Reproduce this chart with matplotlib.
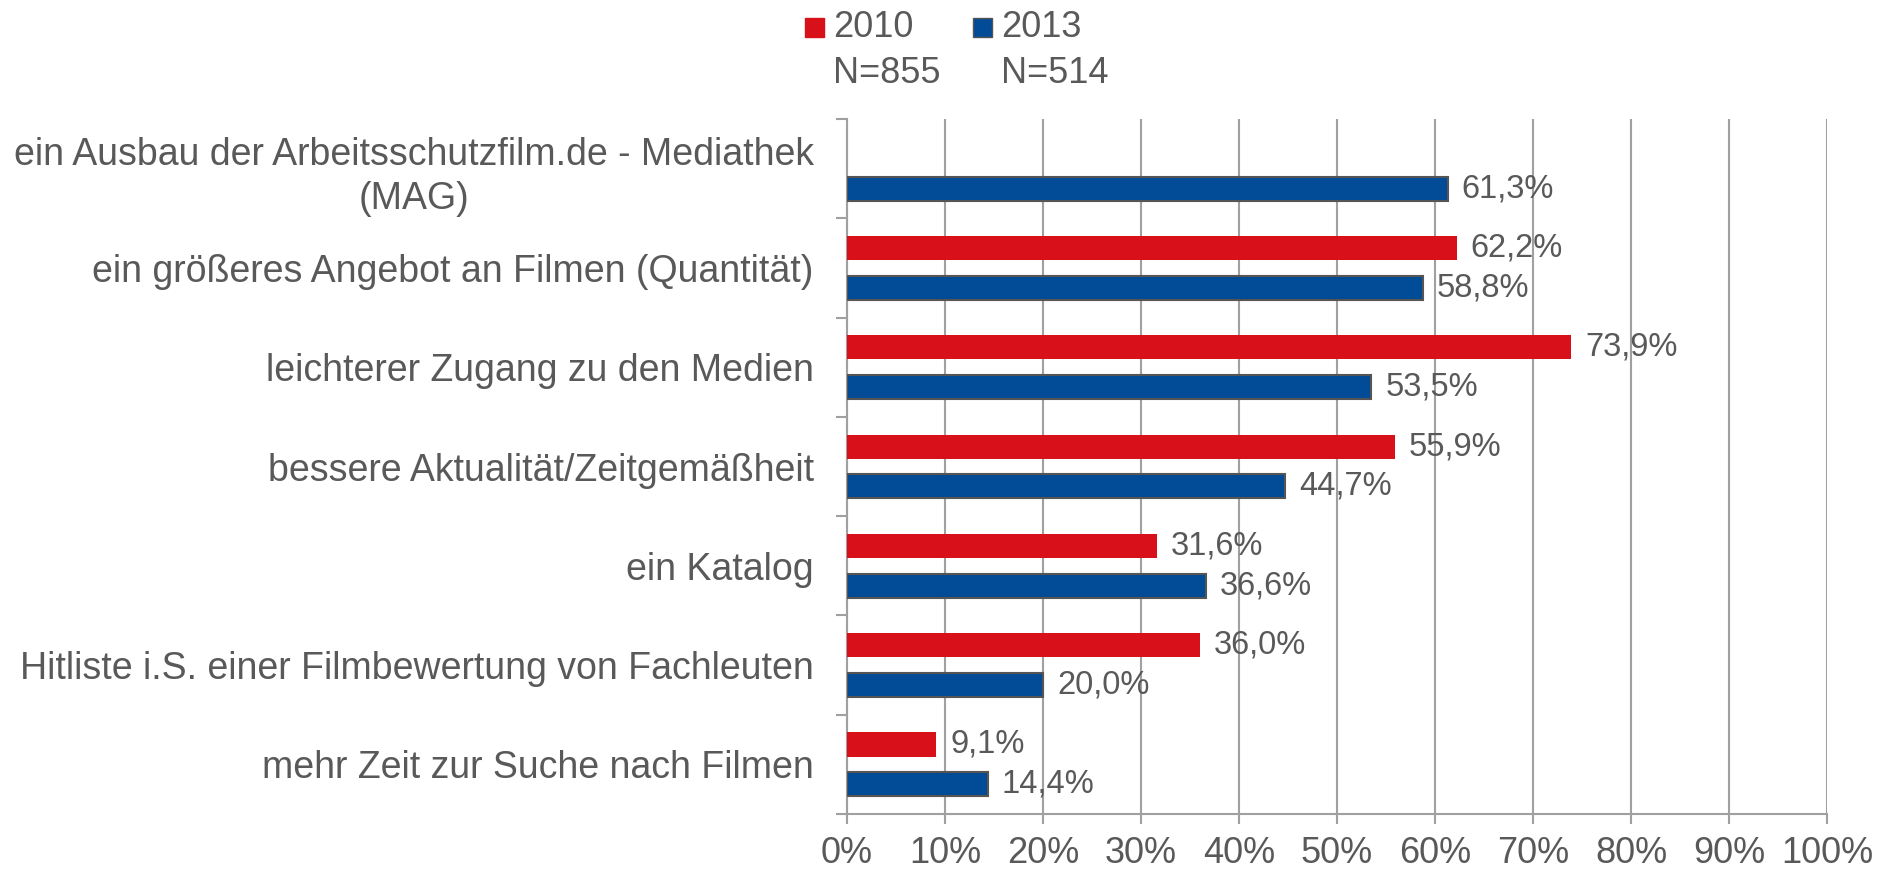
import numpy as np
import matplotlib
matplotlib.use('Agg')
from matplotlib import pyplot as plt
from matplotlib.patches import Rectangle

plt.rcParams['font.family'] = ['Liberation Sans', 'DejaVu Sans']

categories = ['ein Ausbau der Arbeitsschutzfilm.de - Mediathek\n(MAG)',
              'ein größeres Angebot an Filmen (Quantität)',
              'leichterer Zugang zu den Medien',
              'bessere Aktualität/Zeitgemäßheit',
              'ein Katalog',
              'Hitliste i.S. einer Filmbewertung von Fachleuten',
              'mehr Zeit zur Suche nach Filmen']
vals_2010 = [np.nan, 62.2, 73.9, 55.9, 31.6, 36.0, 9.1]
vals_2013 = [61.3, 58.8, 53.5, 44.7, 36.6, 20.0, 14.4]
years = ['2010', '2013']
sizes = ['N=855', 'N=514']
xticks = [0, 10, 20, 30, 40, 50, 60, 70, 80, 90, 100]

red = '#D7101A'
blue = '#024B97'
txt = '#595959'
grid = '#A0A0A0'

fig = plt.figure(figsize=(18.94, 8.73), dpi=100)
ax = fig.add_axes([0.4472, 0.0676, 0.5174, 0.796])

y = np.arange(len(categories))
ax.barh(y - 0.2, vals_2010, height=0.243, color=red, zorder=3)
ax.barh(y + 0.2, vals_2013, height=0.243, color=blue, edgecolor='#555555',
        linewidth=1.5, zorder=3)

def fmt(v):
    return f'{v:.1f}%'.replace('.', ',')

for yi, v in zip(y, vals_2010):
    if not np.isnan(v):
        ax.annotate(fmt(v), (v, yi - 0.2), xytext=(10, 0), textcoords='offset points',
                    va='center', ha='left', fontsize=23.5, color=txt, zorder=4)
for yi, v in zip(y, vals_2013):
    ax.annotate(fmt(v), (v, yi + 0.2), xytext=(10, 0), textcoords='offset points',
                va='center', ha='left', fontsize=23.5, color=txt, zorder=4)

ax.set_xlim(0, 100)
ax.set_ylim(len(categories) - 0.5, -0.5)
ax.set_xticks(xticks)
ax.set_xticklabels([f'{t}%' for t in xticks], fontsize=26, color=txt)
ax.xaxis.grid(True, color=grid, linewidth=1.5, zorder=0)
ax.tick_params(axis='x', length=7.5, color=grid, width=1.5, pad=8)

ax.set_yticks(y)
ax.set_yticklabels(categories, fontsize=27, color=txt, multialignment='center',
                   linespacing=1.3)
ax.tick_params(axis='y', length=0, pad=24)
ax.set_yticks(np.arange(len(categories) + 1) - 0.5, minor=True)
ax.tick_params(axis='y', which='minor', length=8, color=grid, width=1.5)

for s in ['top', 'right']:
    ax.spines[s].set_visible(False)
for s in ['left', 'bottom']:
    ax.spines[s].set_color(grid)
    ax.spines[s].set_linewidth(1.5)

# legend drawn in figure coordinates
W, H = 1894, 873
for i, (c, yr, n) in enumerate(zip([red, blue], years, sizes)):
    x0 = 805 + i * 168
    fig.patches.append(Rectangle((x0 / W, 1 - 37 / H), 19 / W, 19 / H,
                                 transform=fig.transFigure, facecolor=c,
                                 edgecolor='#555555' if i == 1 else c, linewidth=1))
    fig.text((x0 + 28) / W, 1 - 10 / H, f'{yr}\n{n}', fontsize=26, color=txt,
             va='top', ha='left', linespacing=1.4)

fig.savefig('out.png', dpi=100)
